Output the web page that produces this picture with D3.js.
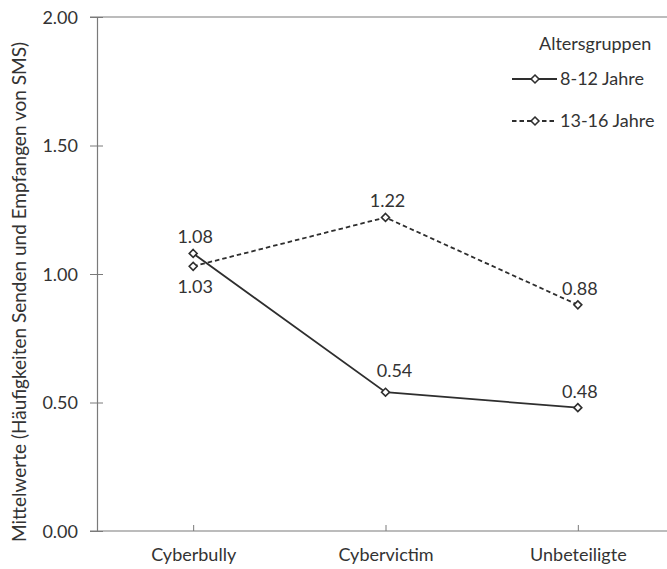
<!DOCTYPE html>
<html><head><meta charset="utf-8">
<script src="https://cdn.jsdelivr.net/npm/d3@7"></script>
<style>body{margin:0;background:#fff}text{font-family:Lato,"Open Sans",sans-serif;fill:#333}</style>
</head><body><svg id="c" width="667" height="569"></svg>
<script>
const categories = ["Cyberbully","Cybervictim","Unbeteiligte"];
const seriesNames = ["8-12 Jahre","13-16 Jahre"];
const young = [1.08, 0.54, 0.48];
const older = [1.03, 1.22, 0.88];
const yTicks = [0, 0.5, 1.0, 1.5, 2.0];
// label placement: "above", "below", "aboveRight"
const youngPos = ["above", "aboveRight", "above"];
const olderPos = ["below", "above", "above"];

const svg = d3.select("#c");
const x = d3.scalePoint().domain(categories).range([97, 674]).padding(0.5);
const y = d3.scaleLinear().domain([0, 2]).range([531, 17]);
const axisColor = "#7a7a7a";
const fs = "18px";
const labelOffset = {above:[2,-10], below:[2,27], aboveRight:[9,-15]};

// top line
svg.append("line").attr("x1",90).attr("x2",667).attr("y1",y(2)).attr("y2",y(2)).attr("stroke",axisColor).attr("stroke-width",1.2);

// y axis
const ya = svg.append("g").attr("transform","translate(97,0)")
  .call(d3.axisLeft(y).tickValues(yTicks).tickFormat(d3.format(".2f")).tickSize(7).tickPadding(12));
ya.select(".domain").attr("stroke",axisColor).attr("stroke-width",1.2);
ya.selectAll(".tick line").attr("stroke",axisColor).attr("x2",6).attr("x1",-7);
ya.selectAll(".tick text").style("font-size",fs).attr("fill","#333").attr("dy","0.35em");

// x axis
const xa = svg.append("g").attr("transform",`translate(0,${y(0)})`)
  .call(d3.axisBottom(x).tickSize(6).tickPadding(11));
xa.select(".domain").attr("d",`M90,0H667`).attr("stroke",axisColor).attr("stroke-width",1.2);
xa.selectAll(".tick line").attr("stroke",axisColor).attr("y1",-6).attr("y2",0);
xa.selectAll(".tick text").style("font-size",fs).attr("fill","#333");

// y title
svg.append("text").attr("transform",`translate(26,292) rotate(-90)`)
  .attr("text-anchor","middle").style("font-size","19px").text("Mittelwerte (Häufigkeiten Senden und Empfangen von SMS)");

const line = d3.line().x((d,i)=>x(categories[i])).y(d=>y(d));
const diamond = d3.symbol().type(d3.symbolDiamond2).size(40);
function drawSeries(vals, dash, pos){
  svg.append("path").datum(vals).attr("d",line).attr("fill","none").attr("stroke","#2e2e2e")
    .attr("stroke-width",1.8).attr("stroke-dasharray",dash);
  svg.selectAll(null).data(vals).enter().append("path")
    .attr("d",diamond).attr("transform",(d,i)=>`translate(${x(categories[i])},${y(d)})`)
    .attr("fill","#fff").attr("stroke","#2e2e2e").attr("stroke-width",1.6);
  svg.selectAll(null).data(vals).enter().append("text")
    .attr("x",(d,i)=>x(categories[i])+labelOffset[pos[i]][0])
    .attr("y",(d,i)=>y(d)+labelOffset[pos[i]][1])
    .attr("text-anchor","middle").style("font-size",fs).text(d=>d.toFixed(2));
}
drawSeries(young, null, youngPos);
drawSeries(older, "4.5,3", olderPos);

// legend
svg.append("text").attr("x",539).attr("y",50).style("font-size",fs).text("Altersgruppen");
const leg = [{name:seriesNames[0],dash:null,y:79},{name:seriesNames[1],dash:"4.5,3",y:121}];
leg.forEach(l=>{
  svg.append("line").attr("x1",512).attr("x2",557).attr("y1",l.y).attr("y2",l.y)
    .attr("stroke","#2e2e2e").attr("stroke-width",1.8).attr("stroke-dasharray",l.dash);
  svg.append("path").attr("d",diamond).attr("transform",`translate(535,${l.y})`)
    .attr("fill","#fff").attr("stroke","#2e2e2e").attr("stroke-width",1.6);
  svg.append("text").attr("x",560).attr("y",l.y).attr("dy","0.35em").style("font-size",fs).text(l.name);
});
</script></body></html>
